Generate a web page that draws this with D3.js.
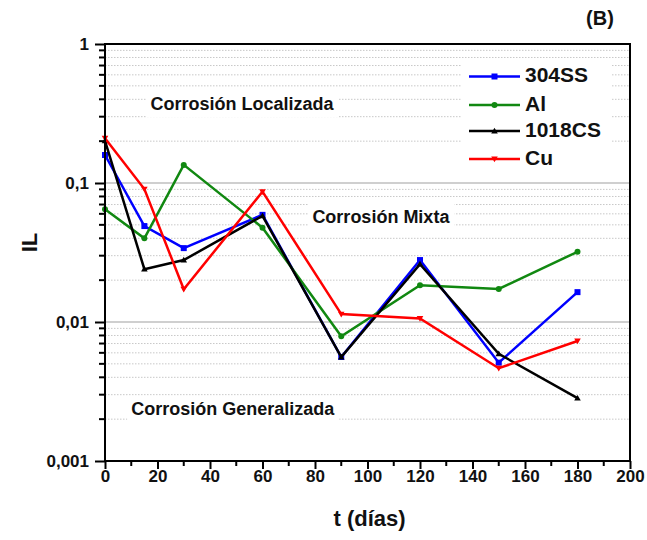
<!DOCTYPE html>
<html><head><meta charset="utf-8">
<script src="https://cdn.jsdelivr.net/npm/d3@7"></script>
<style>body{margin:0;background:#fff}svg{display:block}</style>
</head><body>
<svg id="c" width="647" height="540"></svg>
<script>
const days = [0, 15, 30, 60, 90, 120, 150, 180];
const ss304 = [0.159, 0.049, 0.034, 0.059, 0.0056, 0.0279, 0.0051, 0.0164];
const al = [0.0647, 0.040, 0.135, 0.0477, 0.0079, 0.0184, 0.0173, 0.032];
const cs1018 = [0.201, 0.024, 0.0279, 0.058, 0.0056, 0.0261, 0.0059, 0.00283];
const cu = [0.21, 0.0905, 0.0172, 0.0867, 0.0114, 0.0106, 0.00465, 0.0073];
const seriesNames = ["304SS", "Al", "1018CS", "Cu"];
const seriesColors = ["#0000ff", "#118811", "#000000", "#ff0000"];
const seriesSymbols = ["square", "circle", "triUp", "triDown"];
const xTicks = [0, 20, 40, 60, 80, 100, 120, 140, 160, 180, 200];
const yTicks = [1, 0.1, 0.01, 0.001];
const yTickLabels = ["1", "0,1", "0,01", "0,001"];
const regionLabels = ["Corrosión Localizada", "Corrosión Mixta", "Corrosión Generalizada"];
const regionX = [17.3, 79, 10];
const regionY = [0.36, 0.056, 0.00233];

const allSeries = [ss304, al, cs1018, cu];
const svg = d3.select("#c");
const L = 105, R = 630, T = 44, B = 461;
const x = d3.scaleLinear().domain([0, 200]).range([L, R]);
const y = d3.scaleLog().domain([0.001, 1]).range([B, T]);
const sans = "'Liberation Sans',Arial,sans-serif";

// minor dotted grid
const minor = [];
[0.001, 0.01, 0.1].forEach(d => { for (let k = 2; k <= 9; k++) minor.push(d * k); });
svg.append("g").selectAll("line").data(minor).join("line")
  .attr("x1", L).attr("x2", R).attr("y1", d => y(d)).attr("y2", d => y(d))
  .attr("stroke", "#c8c8c8").attr("stroke-width", 1).attr("stroke-dasharray", "1.5,1.5");
// major grid
svg.append("g").selectAll("line").data([0.1, 0.01]).join("line")
  .attr("x1", L).attr("x2", R).attr("y1", d => y(d)).attr("y2", d => y(d))
  .attr("stroke", "#a0a0a0").attr("stroke-width", 1.2);

// region labels with white backgrounds
const rl = svg.append("g");
regionLabels.forEach((t, i) => {
  const tx = rl.append("text").attr("x", x(regionX[i])).attr("y", y(regionY[i]))
    .attr("font-family", sans).attr("font-weight", "bold").attr("font-size", 18)
    .attr("dominant-baseline", "middle").attr("fill", "#111").text(t);
  const bb = tx.node().getBBox();
  rl.insert("rect", "text").attr("x", bb.x - 4).attr("y", bb.y - 3)
    .attr("width", bb.width + 8).attr("height", bb.height + 6).attr("fill", "#fff");
});

// legend background
svg.append("rect").attr("x", 462).attr("y", 62).attr("width", 150).attr("height", 110).attr("fill", "#fff");

// lines
const line = d3.line().x((d, i) => x(days[i])).y(d => y(d));
function symbolPath(kind, s) {
  if (kind === "square") return `M${-s},${-s}H${s}V${s}H${-s}Z`;
  if (kind === "circle") return d3.symbol(d3.symbolCircle, Math.PI * s * s)();
  if (kind === "triUp") return `M0,${-s * 1.1}L${s * 1.1},${s * 0.8}L${-s * 1.1},${s * 0.8}Z`;
  return `M0,${s * 1.1}L${s * 1.1},${-s * 0.8}L${-s * 1.1},${-s * 0.8}Z`;
}
allSeries.forEach((vals, si) => {
  const g = svg.append("g");
  g.append("path").datum(vals).attr("d", line).attr("fill", "none")
    .attr("stroke", seriesColors[si]).attr("stroke-width", 2.5).attr("stroke-linejoin", "miter");
  g.selectAll("path.m").data(vals).join("path").attr("class", "m")
    .attr("transform", (d, i) => `translate(${x(days[i])},${y(d)})`)
    .attr("d", symbolPath(seriesSymbols[si], 3)).attr("fill", seriesColors[si]);
});

// frame
svg.append("rect").attr("x", L).attr("y", T).attr("width", R - L).attr("height", B - T)
  .attr("fill", "none").attr("stroke", "#000").attr("stroke-width", 2);

// x axis
const xAxis = d3.axisBottom(x).tickValues(xTicks).tickSize(8).tickPadding(1).tickFormat(d3.format("d"));
const gx = svg.append("g").attr("transform", `translate(0,${B})`).call(xAxis);
gx.select(".domain").remove();
gx.selectAll("line").attr("stroke-width", 2);
gx.selectAll("text").attr("font-family", sans).attr("font-weight", "bold").attr("font-size", 17).attr("fill", "#111");
const xMinor = d3.range(10, 200, 20);
svg.append("g").selectAll("line").data(xMinor).join("line")
  .attr("x1", d => x(d)).attr("x2", d => x(d)).attr("y1", B).attr("y2", B + 5)
  .attr("stroke", "#000").attr("stroke-width", 2);

// y axis
const yAxis = d3.axisLeft(y).tickValues(yTicks).tickSize(10).tickPadding(6).tickFormat((d, i) => yTickLabels[i]);
const gy = svg.append("g").attr("transform", `translate(${L},0)`).call(yAxis);
gy.select(".domain").remove();
gy.selectAll("line").attr("stroke-width", 2);
gy.selectAll("text").attr("font-family", sans).attr("font-weight", "bold").attr("font-size", 17).attr("fill", "#111");
svg.append("g").selectAll("line").data(minor).join("line")
  .attr("x1", L - 6).attr("x2", L).attr("y1", d => y(d)).attr("y2", d => y(d))
  .attr("stroke", "#000").attr("stroke-width", 2);

// axis titles
svg.append("text").attr("x", (L + R) / 2 + 2).attr("y", 520).attr("text-anchor", "middle")
  .attr("dominant-baseline", "middle").attr("font-family", sans).attr("font-weight", "bold")
  .attr("font-size", 22).attr("fill", "#111").text("t (días)");
svg.append("text").attr("transform", `translate(31,${(T + B) / 2 - 10}) rotate(-90)`).attr("text-anchor", "middle")
  .attr("dominant-baseline", "middle").attr("font-family", sans).attr("font-weight", "bold")
  .attr("font-size", 22).attr("fill", "#111").text("IL");
svg.append("text").attr("x", 600).attr("y", 20).attr("text-anchor", "middle")
  .attr("dominant-baseline", "middle").attr("font-family", sans).attr("font-weight", "bold")
  .attr("font-size", 20).attr("fill", "#111").text("(B)");

// legend
const legY = [76.5, 105, 131, 159];
const lg = svg.append("g");
seriesNames.forEach((n, i) => {
  lg.append("line").attr("x1", 469).attr("x2", 520).attr("y1", legY[i]).attr("y2", legY[i])
    .attr("stroke", seriesColors[i]).attr("stroke-width", 2.5);
  lg.append("path").attr("transform", `translate(494.5,${legY[i]})`)
    .attr("d", symbolPath(seriesSymbols[i], 3)).attr("fill", seriesColors[i]);
  lg.append("text").attr("x", 525).attr("y", legY[i]).attr("dominant-baseline", "middle")
    .attr("font-family", sans).attr("font-weight", "bold").attr("font-size", 21).attr("fill", "#111").text(n);
});
</script>
</body></html>
